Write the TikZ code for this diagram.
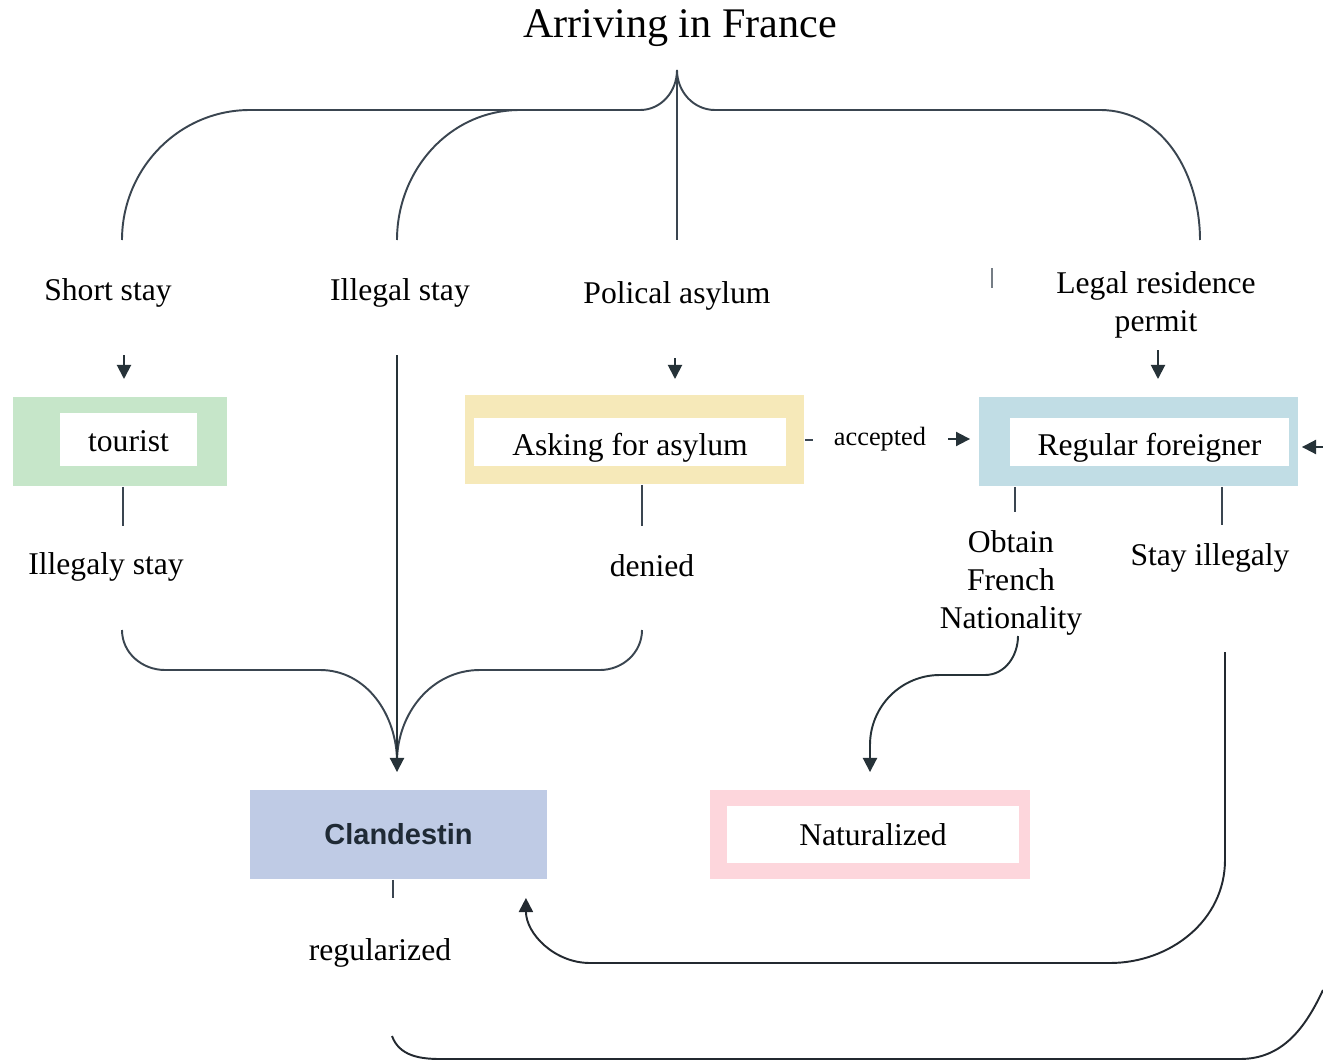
\documentclass[tikz,border=0pt]{standalone}
\usepackage{fontspec}
\setmainfont{Liberation Serif}
\newfontfamily\clfont{Liberation Sans}
\usetikzlibrary{arrows.meta,positioning,calc}
\definecolor{cLine}{HTML}{3A4550}
\definecolor{cTip}{HTML}{263238}
\definecolor{cGRN}{HTML}{C6E6C9}
\definecolor{cYEL}{HTML}{F6E9B9}
\definecolor{cBLU}{HTML}{C1DDE5}
\definecolor{cCLA}{HTML}{BFCBE5}
\definecolor{cPNK}{HTML}{FDD6DC}
\definecolor{ink}{HTML}{1F2A35}

\begin{document}
\begin{tikzpicture}[x=0.02cm, y=-0.02cm, line width=1.1pt, draw=cLine,
  lbl/.style={font=\fontsize{18}{21.5}\selectfont, align=center},
  box/.style={minimum width=#1, minimum height=1.78cm, inner sep=0pt},
  wbox/.style={fill=white, minimum width=#1, minimum height=0.96cm, inner sep=0pt, font=\fontsize{18}{21.5}\selectfont},
  arr/.style={-{Triangle[length=8pt,width=8pt]}, cTip}]
\useasboundingbox (0,0) rectangle (1323,1061);
\node[font=\fontsize{24}{28}\selectfont] (title) at (680,28) {Arriving in France};
\node[lbl] (short) at (108,293) {Short stay};
\node[lbl] (illegal) at (400,293) {Illegal stay};
\node[lbl] (polical) at (677,296) {Polical asylum};
\node[lbl] (legal) at (1156,305) {Legal residence\\permit};
\node[box=4.28cm, fill=cGRN] (tourist) at (120,441.5) {};
\node[wbox=2.74cm, minimum height=1.06cm, text height=14pt, text depth=0pt] (touristw) at (128.5,439.5) {tourist};
\node[box=6.78cm, fill=cYEL] (asylum) at (634.5,439.5) {};
\node[wbox=6.24cm, text height=15pt, text depth=0pt] (asylumw) at (630,442) {Asking for asylum};
\node[box=6.38cm, fill=cBLU] (regular) at (1138.5,441.5) {};
\node[wbox=5.58cm, text height=15pt, text depth=0pt] (regularw) at (1149.5,442) {Regular foreigner};
\node[font=\fontsize{15}{18}\selectfont] (accepted) at (880,439) {accepted};
\node[lbl] (illegaly) at (106,567) {Illegaly stay};
\node[lbl] (denied) at (652,566) {denied};
\node[lbl] (obtain) at (1011,583) {Obtain\\French\\Nationality};
\node[lbl] (stay) at (1210,558) {Stay illegaly};
\node[box=5.94cm, fill=cCLA, text=ink, font=\clfont\bfseries\fontsize{16.5}{20}\selectfont] (clandestin) at (398.5,834.5) {Clandestin};
\node[box=6.4cm, fill=cPNK] (naturalized) at (870,834.5) {};
\node[wbox=5.84cm, minimum height=1.14cm] (naturalizedw) at (873,834.5) {Naturalized};
\node[lbl] (regularized) at (380,953) {regularized};
\coordinate (top) at (677,70);
\coordinate (merge) at (397,762);
\draw (top) -- (677,240);
\draw (top) to[out=-90,in=0] (640,110) -- (250,110) to[out=180,in=90] (122,240);
\draw (520,110) to[out=180,in=90] (397,240);
\draw (top) to[out=-90,in=180] (715,110) -- (1100,110) to[out=0,in=90] (1200,240);
\draw[cLine!70, line width=0.6pt] (992,268) -- (992,288);
\foreach \x/\a/\b in {124/355/379, 675/358/379, 1158/350/379}
  \draw[arr] (\x,\a) -- (\x,\b);
\draw (asylum.east |- 0,440) -- ++(8,0);
\draw[arr] (948,439) -- ($(regular.west |- 0,439)+(-8,0)$);
\draw[arr] (1323,447) -- ($(regular.east |- 0,447)+(3,0)$);
\draw (tourist.south -| 123,0) -- (123,526);
\draw (asylum.south -| 642,0) -- (642,526);
\draw (regular.south -| 1015,0) -- (1015,512);
\draw (regular.south -| 1222,0) -- (1222,525);
\draw (clandestin.south -| 393,0) -- (393,898);
\draw (122,630) to[out=-90,in=180] (165,670) -- (320,670) to[out=0,in=90] (merge);
\draw (642,630) to[out=-90,in=0] (600,670) -- (480,670) to[out=180,in=90] (merge);
\draw[arr] (397,355) -- ($(clandestin.north)+(-1.5,-17)$);
\draw[arr] (1018,636) to[out=-90,in=0] (985,675) -- (940,675) to[out=180,in=90] (870,745) -- ($(naturalized.north)+(0,-17)$);
\draw[arr, cLine!60!black] (1225,652) -- (1225,860) to[out=-90,in=0] (1110,963) -- (590,963) to[out=180,in=-90] ($(clandestin.south east)+(-22,18)$);
\draw[cLine!60!black] (392,1036) to[out=-70,in=180] (440,1059) -- (1240,1059) to[out=0,in=-115] (1323,990);
\end{tikzpicture}
\end{document}
